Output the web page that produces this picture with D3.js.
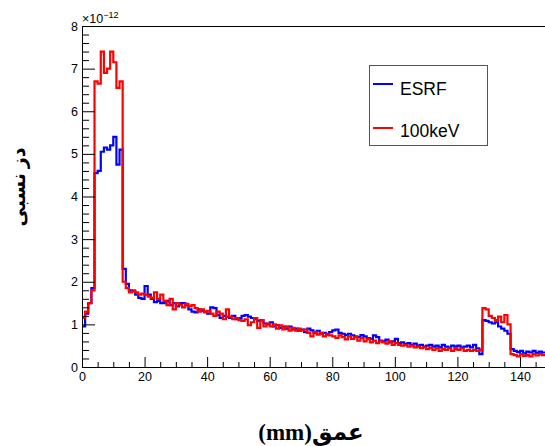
<!DOCTYPE html>
<html>
<head>
<meta charset="utf-8">
<script src="https://cdn.jsdelivr.net/npm/d3@7"></script>
<style>
  html, body { margin: 0; padding: 0; background: #fff; }
  svg { display: block; }
</style>
</head>
<body>
<svg id="chart" width="545" height="446"></svg>
<script>
// Depth bins (mm), 1 mm wide, starting at 0
const binStart = 0;
const binWidth = 1;
// ESRF relative dose (x1e-12)
const esrf = [
  0.95,1.25,1.5,1.85,
  4.55,4.6,5.05,5.15,5.1,5.2,5.4,4.75,5.1,
  2.3,1.95,1.8,1.78,1.7,1.62,1.6,1.9,1.7,1.6,
  1.52,1.55,1.5,1.5,1.55,1.45,1.5,1.42,1.5,1.5,
  1.45,1.35,1.3,1.28,1.35,1.32,1.3,1.25,1.4,1.38,
  1.22,1.15,1.2,1.18,1.15,1.2,1.12,1.15,1.2,1.22,
  1.18,1.15,1.12,1.08,1.1,1.02,1.0,1.05,0.95,0.98,
  0.92,0.95,0.9,0.95,0.88,0.9,0.85,0.88,0.82,0.9,
  0.86,0.8,0.85,0.78,0.8,0.76,0.82,0.86,0.88,0.8,
  0.78,0.75,0.78,0.74,0.72,0.7,0.75,0.72,0.68,0.66,
  0.74,0.7,0.62,0.6,0.64,0.58,0.6,0.66,0.56,0.58,
  0.54,0.56,0.52,0.55,0.5,0.52,0.48,0.5,0.52,0.48,
  0.5,0.46,0.52,0.48,0.46,0.5,0.48,0.5,0.46,0.48,
  0.5,0.46,0.52,0.44,0.3,1.1,1.08,1.05,1.02,1.05,
  0.95,0.9,0.85,0.78,0.42,0.38,0.35,0.38,0.32,0.36,
  0.34,0.38,0.33,0.36,0.34
];
// 100keV relative dose (x1e-12)
const kev100 = [
  1.15,1.3,1.5,1.8,
  6.7,6.65,7.4,6.9,7.0,7.4,7.15,6.55,6.7,
  2.0,1.85,1.75,1.8,1.75,1.7,1.72,1.7,1.65,1.62,
  1.75,1.6,1.7,1.55,1.45,1.6,1.35,1.5,1.45,1.4,
  1.48,1.42,1.45,1.38,1.3,1.35,1.28,1.32,1.25,1.2,
  1.3,1.25,1.12,1.35,1.18,1.12,1.15,1.1,1.08,1.12,
  0.98,1.05,1.15,0.92,1.1,0.95,1.02,0.95,1.0,0.9,
  0.98,0.88,0.95,0.85,0.92,0.85,0.9,0.86,0.88,0.8,
  0.72,0.82,0.76,0.8,0.72,0.78,0.74,0.72,0.68,0.74,
  0.7,0.65,0.72,0.66,0.7,0.62,0.68,0.6,0.66,0.58,
  0.62,0.56,0.6,0.58,0.55,0.6,0.52,0.56,0.52,0.5,
  0.52,0.48,0.5,0.46,0.48,0.44,0.46,0.42,0.45,0.4,
  0.44,0.38,0.42,0.4,0.44,0.38,0.42,0.4,0.44,0.38,
  0.4,0.38,0.4,0.38,0.4,1.38,1.35,1.2,1.15,1.1,
  1.18,1.05,1.22,1.0,0.3,0.28,0.25,0.3,0.26,0.28,
  0.25,0.3,0.27,0.3,0.28
];
const seriesNames = ["ESRF", "100keV"];
const seriesColors = ["#0000ff", "#ff0000"];
const xTicks = [0, 20, 40, 60, 80, 100, 120, 140];
const yTicks = [0, 1, 2, 3, 4, 5, 6, 7, 8];
const xDomain = [0, 148];
const yDomain = [0, 8];
const yTitle = "دز نسبی";
const xTitle = "عمق(mm)";

const svg = d3.select("#chart");
const x = d3.scaleLinear().domain(xDomain).range([82, 545]);
const y = d3.scaleLinear().domain(yDomain).range([367, 26]);

svg.append("defs").append("clipPath").attr("id", "plotclip")
  .append("rect").attr("x", 82).attr("y", 26).attr("width", 463).attr("height", 341);

const line = d3.line().x(d => x(d[0])).y(d => y(d[1])).curve(d3.curveStepAfter);
[esrf, kev100].forEach((vals, i) => {
  const pts = vals.map((v, k) => [binStart + k * binWidth, v]);
  pts.push([binStart + vals.length * binWidth, vals[vals.length - 1]]);
  svg.append("path")
    .attr("clip-path", "url(#plotclip)")
    .attr("d", line(pts))
    .attr("fill", "none")
    .attr("stroke", seriesColors[i])
    .attr("stroke-width", 2.2)
    .attr("stroke-linejoin", "miter");
});

const yMinor = d3.range(0, 8.0001, 0.2).filter(v => Math.abs(v - Math.round(v)) > 1e-6);
const xMinor = d3.range(0, 148, 5).filter(v => v % 20 !== 0);

const fontAxis = "Liberation Sans, Arial, Helvetica, sans-serif";

const gy = svg.append("g").attr("transform", "translate(82,0)");
gy.call(d3.axisLeft(y).tickValues(yTicks).tickSize(-13).tickSizeOuter(0).tickPadding(4).tickFormat(d3.format("d")));
gy.append("g").call(d3.axisLeft(y).tickValues(yMinor).tickSize(-7).tickSizeOuter(0).tickFormat(""))
  .select(".domain").remove();

const gx = svg.append("g").attr("transform", "translate(0,367)");
gx.call(d3.axisBottom(x).tickValues(xTicks).tickSize(-10).tickSizeOuter(0).tickPadding(5).tickFormat(d3.format("d")));
gx.append("g").call(d3.axisBottom(x).tickValues(xMinor).tickSize(-5).tickSizeOuter(0).tickFormat(""))
  .select(".domain").remove();

svg.selectAll(".tick text").attr("font-family", fontAxis).attr("font-size", 12.5).attr("fill", "#000");
svg.selectAll(".tick line").attr("stroke", "#000");
svg.selectAll(".domain").attr("stroke", "#000");

svg.append("line").attr("x1", 82).attr("x2", 545).attr("y1", 26.5).attr("y2", 26.5)
  .attr("stroke", "#000").attr("stroke-width", 1);

const ex = svg.append("text").attr("x", 82).attr("y", 23)
  .attr("font-family", fontAxis).attr("font-size", 12.5).attr("fill", "#000");
ex.append("tspan").text("×10");
ex.append("tspan").attr("dy", -5).attr("font-size", 9).text("−12");

svg.append("rect").attr("x", 369.5).attr("y", 65.5).attr("width", 118).attr("height", 80)
  .attr("fill", "#fff").attr("stroke", "#555").attr("stroke-width", 1);
const legY = [84, 128];
const legTextY = [95, 137];
seriesNames.forEach((n, i) => {
  svg.append("line").attr("x1", 373).attr("x2", 393).attr("y1", legY[i]).attr("y2", legY[i])
    .attr("stroke", seriesColors[i]).attr("stroke-width", 2);
  svg.append("text").attr("x", 400).attr("y", legTextY[i])
    .attr("font-family", fontAxis).attr("font-size", 17.5).attr("fill", "#000").text(n);
});

svg.append("text")
  .attr("transform", "translate(25,187) rotate(-90)")
  .attr("text-anchor", "middle")
  .attr("direction", "rtl")
  .attr("font-family", "Liberation Serif, DejaVu Sans, serif")
  .attr("font-weight", "bold")
  .attr("font-size", 19)
  .attr("fill", "#000")
  .text(yTitle);

svg.append("text")
  .attr("x", 311).attr("y", 440)
  .attr("text-anchor", "middle")
  .attr("direction", "rtl")
  .attr("font-family", "Liberation Serif, DejaVu Sans, serif")
  .attr("font-weight", "bold")
  .attr("font-size", 23)
  .attr("fill", "#000")
  .text(xTitle);
</script>
</body>
</html>
